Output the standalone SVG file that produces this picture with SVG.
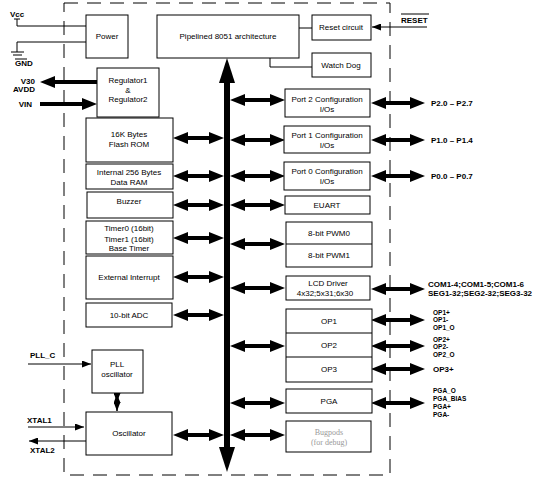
<svg xmlns="http://www.w3.org/2000/svg" width="542" height="477" viewBox="0 0 542 477">
<style>
.box{fill:#fff;stroke:#000;stroke-width:1}
.t{font-family:"Liberation Sans",Arial,sans-serif;font-size:8px;fill:#000;text-anchor:middle}
.l{font-family:"Liberation Sans",Arial,sans-serif;font-size:8px;font-weight:bold;fill:#000}
.k{font-size:6.5px}
.r{text-anchor:end}
.thin{stroke:#000;stroke-width:1;fill:none}
.dbl{stroke:#000;stroke-width:4;marker-start:url(#a);marker-end:url(#a)}
.one{stroke:#000;stroke-width:4;marker-end:url(#a)}
.sm{stroke:#000;stroke-width:1;marker-end:url(#s)}
</style>
<defs>
<marker id="a" markerUnits="userSpaceOnUse" markerWidth="15" markerHeight="12" refX="6" refY="6" orient="auto-start-reverse"><path d="M0,0 L15,6 L0,12 z" fill="#000"/></marker>
<marker id="b" markerUnits="userSpaceOnUse" markerWidth="25" markerHeight="16" refX="10" refY="8" orient="auto-start-reverse"><path d="M0,0 L25,8 L0,16 z" fill="#000"/></marker>
<marker id="s" markerUnits="userSpaceOnUse" markerWidth="9" markerHeight="7" refX="9" refY="3.5" orient="auto-start-reverse"><path d="M0,0 L9,3.5 L0,7 z" fill="#000"/></marker>
</defs>
<rect width="542" height="477" fill="#fff"/>
<rect id="chip-border" x="64" y="3" width="326" height="472" fill="none" stroke="#000" stroke-width="1" stroke-dasharray="14 9"/>

<g id="connectors">
<polyline class="thin" points="14,19 20,19"/>
<polyline class="thin" points="17,19 17,26 86,26"/>
<polyline class="thin" points="86,42 17,42 17,52"/>
<line class="thin" x1="11" y1="52" x2="24" y2="52"/>
<line class="thin" x1="13" y1="55" x2="22" y2="55"/>
<line class="thin" x1="15" y1="59" x2="27" y2="59"/>
<line class="one" x1="97" y1="82" x2="49" y2="82"/>
<line class="one" x1="40" y1="104" x2="88" y2="104"/>
<line class="thin" x1="299" y1="28" x2="312" y2="28"/>
<polyline class="thin" points="270,58 270,67 312,67"/>
<line class="sm" x1="427" y1="27" x2="372" y2="27"/>
<line class="thin" x1="401" y1="14" x2="429" y2="14"/>
<line x1="227" y1="73" x2="227" y2="457" stroke="#000" stroke-width="6" marker-start="url(#b)" marker-end="url(#b)"/>
<line class="dbl" x1="182" y1="138" x2="215" y2="138"/>
<line class="dbl" x1="182" y1="176" x2="215" y2="176"/>
<line class="dbl" x1="182" y1="205" x2="215" y2="205"/>
<line class="dbl" x1="182" y1="238" x2="215" y2="238"/>
<line class="dbl" x1="182" y1="277" x2="215" y2="277"/>
<line class="dbl" x1="182" y1="315" x2="215" y2="315"/>
<line class="dbl" x1="182" y1="435" x2="215" y2="435"/>
<line class="dbl" x1="239" y1="100" x2="276" y2="100"/>
<line class="dbl" x1="239" y1="140" x2="276" y2="140"/>
<line class="dbl" x1="239" y1="176" x2="276" y2="176"/>
<line class="dbl" x1="239" y1="205" x2="276" y2="205"/>
<line class="dbl" x1="239" y1="244" x2="276" y2="244"/>
<line class="dbl" x1="239" y1="288" x2="276" y2="288"/>
<line class="dbl" x1="239" y1="346" x2="276" y2="346"/>
<line class="dbl" x1="239" y1="403" x2="276" y2="403"/>
<line class="dbl" x1="239" y1="435" x2="276" y2="435"/>
<line class="dbl" x1="380" y1="103" x2="416" y2="103"/>
<line class="dbl" x1="380" y1="140" x2="416" y2="140"/>
<line class="dbl" x1="380" y1="176" x2="416" y2="176"/>
<line class="dbl" x1="380" y1="289" x2="416" y2="289"/>
<line class="dbl" x1="380" y1="320" x2="416" y2="320"/>
<line class="dbl" x1="380" y1="346" x2="416" y2="346"/>
<line class="dbl" x1="380" y1="369" x2="416" y2="369"/>
<line class="dbl" x1="380" y1="403" x2="416" y2="403"/>
<line class="sm" x1="28" y1="364" x2="91" y2="364"/>
<line class="sm" x1="28" y1="427" x2="84" y2="427"/>
<line class="sm" x1="86" y1="441" x2="29" y2="441"/>
<line class="sm" x1="117" y1="402" x2="117" y2="394" marker-start="url(#s)"/>
<line class="thin" x1="117" y1="398" x2="117" y2="411"/>
<line class="sm" x1="117" y1="402" x2="117" y2="411"/>
</g>

<g id="pin-labels">
<text class="l" x="10" y="17">Vcc</text>
<text class="l" x="15" y="66">GND</text>
<text class="l r" x="35" y="84">V30</text>
<text class="l r" x="35" y="92">AVDD</text>
<text class="l r" x="32" y="107">VIN</text>
<text class="l" x="401" y="23">RESET</text>
<text class="l" x="431" y="106">P2.0 – P2.7</text>
<text class="l" x="431" y="143">P1.0 – P1.4</text>
<text class="l" x="431" y="179">P0.0 – P0.7</text>
<text class="l" x="428" y="287">COM1-4;COM1-5;COM1-6</text>
<text class="l" x="428" y="296">SEG1-32;SEG2-32;SEG3-32</text>
<text class="l k" x="433" y="315">OP1+</text>
<text class="l k" x="433" y="322">OP1-</text>
<text class="l k" x="433" y="330">OP1_O</text>
<text class="l k" x="433" y="342">OP2+</text>
<text class="l k" x="433" y="349">OP2-</text>
<text class="l k" x="433" y="357">OP2_O</text>
<text class="l" x="433" y="372">OP3+</text>
<text class="l k" x="433" y="393">PGA_O</text>
<text class="l k" x="433" y="401">PGA_BIAS</text>
<text class="l k" x="433" y="409">PGA+</text>
<text class="l k" x="433" y="417">PGA-</text>
<text class="l" x="30" y="358">PLL_C</text>
<text class="l" x="27" y="423">XTAL1</text>
<text class="l" x="30" y="453">XTAL2</text>
</g>

<g id="power"><rect class="box" x="86" y="15" width="42" height="43"/><text class="t" x="107" y="39">Power</text></g>
<g id="cpu"><rect class="box" x="157" y="15" width="142" height="43"/><text class="t" x="228" y="39">Pipelined 8051 architecture</text></g>
<g id="reset"><rect class="box" x="312" y="15" width="59" height="25"/><text class="t" x="341" y="30">Reset circuit</text></g>
<g id="watchdog"><rect class="box" x="312" y="53" width="59" height="24"/><text class="t" x="341" y="68">Watch Dog</text></g>
<g id="regulator"><rect class="box" x="97" y="68" width="62" height="49"/><text class="t" x="128" y="83">Regulator1</text><text class="t" x="128" y="93">&amp;</text><text class="t" x="128" y="102">Regulator2</text></g>
<g id="flash"><rect class="box" x="86" y="118" width="87" height="44"/><text class="t" x="129" y="137">16K Bytes</text><text class="t" x="129" y="147">Flash ROM</text></g>
<g id="ram"><rect class="box" x="86" y="164" width="87" height="25"/><text class="t" x="129" y="175">Internal 256 Bytes</text><text class="t" x="129" y="185">Data RAM</text></g>
<g id="buzzer"><rect class="box" x="87" y="192" width="86" height="26"/><text class="t" x="129" y="204">Buzzer</text></g>
<g id="timer"><rect class="box" x="86" y="221" width="87" height="33"/><text class="t" x="129" y="231">Timer0 (16bit)</text><text class="t" x="129" y="242">Timer1 (16bit)</text><text class="t" x="129" y="251">Base Timer</text></g>
<g id="extint"><rect class="box" x="86" y="256" width="87" height="43"/><text class="t" x="129" y="280">External Interrupt</text></g>
<g id="adc"><rect class="box" x="86" y="303" width="86" height="24"/><text class="t" x="129" y="318">10-bit ADC</text></g>
<g id="pll"><rect class="box" x="92" y="350" width="51" height="43"/><text class="t" x="117" y="367">PLL</text><text class="t" x="117" y="377">oscillator</text></g>
<g id="osc"><rect class="box" x="86" y="412" width="86" height="43"/><text class="t" x="129" y="436">Oscillator</text></g>
<g id="port2"><rect class="box" x="285" y="89" width="85" height="28"/><text class="t" x="327" y="102">Port 2 Configuration</text><text class="t" x="327" y="112">I/Os</text></g>
<g id="port1"><rect class="box" x="284" y="126" width="86" height="27"/><text class="t" x="327" y="138">Port 1 Configuration</text><text class="t" x="327" y="148">I/Os</text></g>
<g id="port0"><rect class="box" x="284" y="162" width="86" height="28"/><text class="t" x="327" y="174">Port 0 Configuration</text><text class="t" x="327" y="184">I/Os</text></g>
<g id="euart"><rect class="box" x="285" y="196" width="85" height="18"/><text class="t" x="327" y="208">EUART</text></g>
<g id="pwm"><rect class="box" x="286" y="222" width="86" height="45"/><line class="thin" x1="286" y1="244" x2="372" y2="244"/><text class="t" x="329" y="236">8-bit PWM0</text><text class="t" x="329" y="258">8-bit PWM1</text></g>
<g id="lcd"><rect class="box" x="286" y="276" width="84" height="24"/><text class="t" x="328" y="286">LCD Driver</text><text class="t" x="325" y="296">4x32;5x31;6x30</text></g>
<g id="op"><rect class="box" x="286" y="309" width="86" height="73"/><line class="thin" x1="286" y1="333" x2="372" y2="333"/><line class="thin" x1="286" y1="357" x2="372" y2="357"/><text class="t" x="329" y="324">OP1</text><text class="t" x="329" y="348">OP2</text><text class="t" x="329" y="372">OP3</text></g>
<g id="pga"><rect class="box" x="286" y="389" width="86" height="24"/><text class="t" x="329" y="404">PGA</text></g>
<g id="bugpods"><rect class="box" x="286" y="421" width="85" height="31"/><text class="t" x="329" y="435" style="font-family:'Liberation Serif',serif;fill:#999">Bugpods</text><text class="t" x="329" y="445" style="font-family:'Liberation Serif',serif;fill:#999">(for debug)</text></g>
</svg>
